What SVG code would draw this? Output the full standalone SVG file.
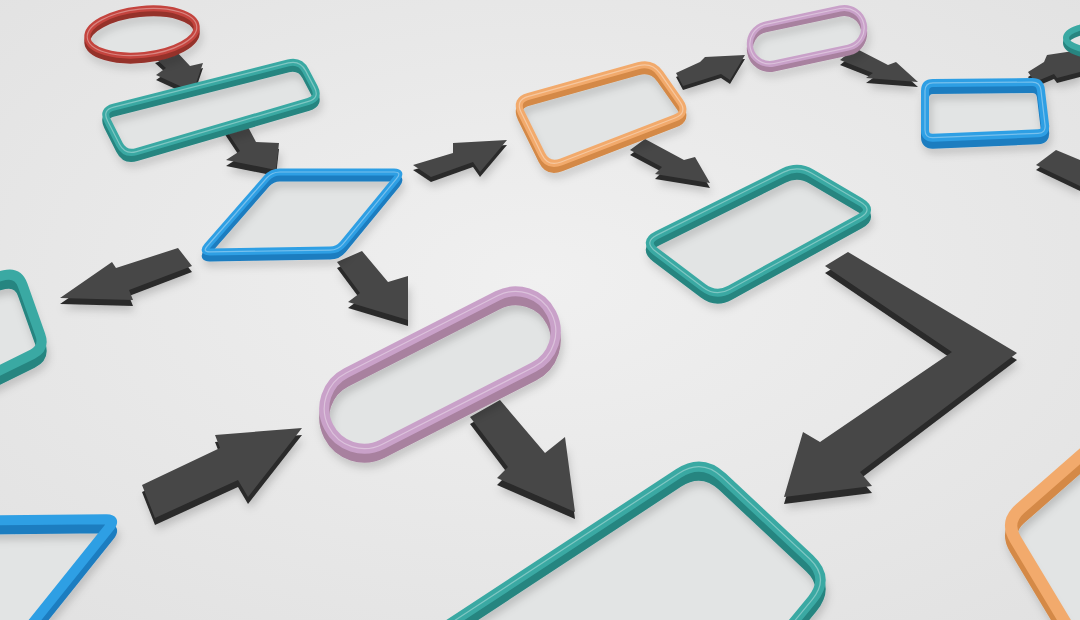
<svg xmlns="http://www.w3.org/2000/svg" width="1080" height="620" viewBox="0 0 1080 620">
<defs>
<radialGradient id="bg" cx="0.5" cy="0.45" r="0.8"><stop offset="0" stop-color="#f0f0f0"/><stop offset="1" stop-color="#e0e0e0"/></radialGradient>
<filter id="sh" x="-30%" y="-30%" width="160%" height="180%"><feDropShadow dx="2" dy="5" stdDeviation="4" flood-color="#000" flood-opacity="0.18"/></filter>
<path id="n2" d="M113.7,107.1 L288.3,62.9 Q300,60 305.6,70.6 L314.4,87.4 Q320,98 308.5,101.4 L136.5,151.6 Q125,155 119.5,144.3 L107.5,120.7 Q102,110 113.7,107.1 Z"/>
<path id="n3" d="M280,172 L394,172 Q402,172 396.9,178.2 L343.1,243.8 Q338,250 330,250.1 L210,251.9 Q202,252 207.3,246 L266.7,178 Q272,172 280,172 Z"/>
<path id="n4" d="M528.5,96.3 L638.5,65.7 Q652,62 660.1,73.4 L679.9,101.6 Q688,113 674.9,118 L561.1,162 Q548,167 541.8,154.4 L521.2,112.6 Q515,100 528.5,96.3 Z"/>
<path id="n6" d="M933,82.9 L1032,82.1 Q1040,82 1040.9,89.9 L1045.1,125.1 Q1046,133 1038,133.3 L933,137.7 Q925,138 925,130 L925,91 Q925,83 933,82.9 Z"/>
<path id="n8" d="M657.3,234.9 L783.7,172.1 Q798,165 811.8,173.2 L860.2,201.8 Q874,210 860,217.7 L730,289.3 Q716,297 703.2,287.4 L655.8,251.6 Q643,242 657.3,234.9 Z"/>
<path id="n10" d="M-100,300 L4.4,275.2 Q18,272 22.7,285.2 L40.3,334.8 Q45,348 32.5,354.2 L-60,400 Z"/>
<path id="n11" d="M-60,521 L106,519.2 Q116,519 109.7,526.8 L15,645 L-100,645 Z"/>
<path id="n12" d="M678.6,473.4 Q702,458 722.4,477.2 L809.6,558.8 Q830,578 812.2,599.6 L680,760 L425,640 Z"/>
<path id="n13" d="M1100,680 L1015.3,539.1 Q1005,522 1020,508.8 L1150,395 L1250,600 Z"/>
<ellipse id="n1" cx="142" cy="32" rx="55" ry="23" transform="rotate(-6 142 32)"/>
<ellipse id="n7" cx="1108" cy="38" rx="42" ry="14"/>
<rect id="n5" x="-58" y="-20" width="116" height="40" rx="20" transform="translate(807,36) rotate(-12)"/>
<rect id="n9" x="-125" y="-40" width="250" height="80" rx="40" transform="translate(440,370) rotate(-27)"/>
</defs>
<style>
.glass{fill:#e2e4e4;stroke:none}
.at{fill:#474747}
.as{fill:#2b2b2b}
.red{fill:none;stroke:#c4443e}
.red-s{fill:none;stroke:#95302b}
.teal{fill:none;stroke:#3aa9a3}
.teal-s{fill:none;stroke:#278580}
.blue{fill:none;stroke:#2e9fe4}
.blue-s{fill:none;stroke:#1d7dc0}
.orange{fill:none;stroke:#f2aa6c}
.orange-s{fill:none;stroke:#d48947}
.purple{fill:none;stroke:#c9a1c9}
.purple-s{fill:none;stroke:#a8819f}
.hl{fill:none;stroke:#ffffff;stroke-opacity:0.35;stroke-width:1.2}
</style>
<rect width="1080" height="620" fill="url(#bg)"/>

<g id="connectors">
  <g id="a1"><polygon class="as" filter="url(#sh)" transform="translate(0,5)" points="155,58 176,51 190,66 203,63 193,92 156,75 166,68"/><polygon class="at" points="155,58 176,51 190,66 203,63 193,92 156,75 166,68"/></g>
  <g id="a2"><polygon class="as" filter="url(#sh)" transform="translate(0,6)" points="218,118 240,112 256,142 279,143 276,170 226,160 240,151"/><polygon class="at" points="218,118 240,112 256,142 279,143 276,170 226,160 240,151"/></g>
  <g id="a3"><polygon class="as" filter="url(#sh)" transform="translate(0,5)" points="413,165 453,153 453,143 507,140 480,172 473,162 431,177"/><polygon class="at" points="413,165 453,153 453,143 507,140 480,172 473,162 431,177"/></g>
  <g id="a4"><polygon class="as" filter="url(#sh)" transform="translate(0,6)" points="60,298 112,262 116,268 178,248 192,266 129,290 133,300"/><polygon class="at" points="60,298 112,262 116,268 178,248 192,266 129,290 133,300"/></g>
  <g id="a5"><polygon class="as" filter="url(#sh)" transform="translate(0,6)" points="337,262 362,251 388,282 408,276 408,320 348,302 360,293"/><polygon class="at" points="337,262 362,251 388,282 408,276 408,320 348,302 360,293"/></g>
  <g id="a6"><polygon class="as" filter="url(#sh)" transform="translate(0,4)" points="676,73 700,62 705,57 745,55 730,80 721,74 683,86"/><polygon class="at" points="676,73 700,62 705,57 745,55 730,80 721,74 683,86"/></g>
  <g id="a7"><polygon class="as" filter="url(#sh)" transform="translate(0,5)" points="840,60 855,48 888,65 896,62 918,82 866,78 873,73"/><polygon class="at" points="840,60 855,48 888,65 896,62 918,82 866,78 873,73"/></g>
  <g id="a8"><polygon class="as" filter="url(#sh)" transform="translate(0,5)" points="630,150 645,139 684,160 695,157 710,183 655,174 662,167"/><polygon class="at" points="630,150 645,139 684,160 695,157 710,183 655,174 662,167"/></g>
  <g id="a9"><polygon class="as" filter="url(#sh)" transform="translate(0,5)" points="1028,72 1044,62 1047,55 1080,50 1080,72 1057,78 1054,74 1035,82"/><polygon class="at" points="1028,72 1044,62 1047,55 1080,50 1080,72 1057,78 1054,74 1035,82"/></g>
  <g id="a10"><polygon class="as" filter="url(#sh)" transform="translate(0,5)" points="1036,165 1056,150 1080,160 1080,186"/><polygon class="at" points="1036,165 1056,150 1080,160 1080,186"/></g>
  <g id="a11"><polygon class="as" filter="url(#sh)" transform="translate(0,7)" points="142,485 220,448 215,435 302,428 248,497 238,480 155,518"/><polygon class="at" points="142,485 220,448 215,435 302,428 248,497 238,480 155,518"/></g>
  <g id="a12"><polygon class="as" filter="url(#sh)" transform="translate(0,7)" points="470,417 500,400 545,453 565,437 575,512 497,478 508,467"/><polygon class="at" points="470,417 500,400 545,453 565,437 575,512 497,478 508,467"/></g>
  <g id="a13"><polygon class="as" filter="url(#sh)" transform="translate(0,7)" points="825,266 848,252 1017,353 860,472 872,486 784,497 803,432 820,442 952,352"/><polygon class="at" points="825,266 848,252 1017,353 860,472 872,486 784,497 803,432 820,442 952,352"/></g>
</g>

<g id="node-start"><use href="#n1" class="glass"/><use href="#n1" class="red-s" stroke-width="6" transform="translate(0,5)" filter="url(#sh)"/><use href="#n1" class="red" stroke-width="6"/><use href="#n1" class="hl"/></g>
<g id="node-process1"><use href="#n2" class="glass"/><use href="#n2" class="teal-s" stroke-width="7" transform="translate(0,6)" filter="url(#sh)"/><use href="#n2" class="teal" stroke-width="7"/><use href="#n2" class="hl"/></g>
<g id="node-decision1"><use href="#n3" class="glass"/><use href="#n3" class="blue-s" stroke-width="7" transform="translate(0,6)" filter="url(#sh)"/><use href="#n3" class="blue" stroke-width="7"/><use href="#n3" class="hl"/></g>
<g id="node-process2"><use href="#n4" class="glass"/><use href="#n4" class="orange-s" stroke-width="7" transform="translate(0,6)" filter="url(#sh)"/><use href="#n4" class="orange" stroke-width="7"/><use href="#n4" class="hl"/></g>
<g id="node-terminal1"><use href="#n5" class="glass"/><use href="#n5" class="purple-s" stroke-width="6" transform="translate(0,5)" filter="url(#sh)"/><use href="#n5" class="purple" stroke-width="6"/><use href="#n5" class="hl"/></g>
<g id="node-process3"><use href="#n6" class="glass"/><use href="#n6" class="blue-s" stroke-width="8" transform="translate(0,7)" filter="url(#sh)"/><use href="#n6" class="blue" stroke-width="8"/><use href="#n6" class="hl"/></g>
<g id="node-terminal2"><use href="#n7" class="glass"/><use href="#n7" class="teal-s" stroke-width="6" transform="translate(0,5)"/><use href="#n7" class="teal" stroke-width="6"/></g>
<g id="node-process4"><use href="#n8" class="glass"/><use href="#n8" class="teal-s" stroke-width="8" transform="translate(0,7)" filter="url(#sh)"/><use href="#n8" class="teal" stroke-width="8"/><use href="#n8" class="hl"/></g>
<g id="node-terminal3"><use href="#n9" class="glass"/><use href="#n9" class="purple-s" stroke-width="10" transform="translate(0,9)" filter="url(#sh)"/><use href="#n9" class="purple" stroke-width="10"/><use href="#n9" class="hl"/></g>
<g id="node-left"><use href="#n10" class="glass"/><use href="#n10" class="teal-s" stroke-width="10" transform="translate(0,9)" filter="url(#sh)"/><use href="#n10" class="teal" stroke-width="10"/></g>
<g id="node-bottom-left"><use href="#n11" class="glass"/><use href="#n11" class="blue-s" stroke-width="10" transform="translate(0,9)" filter="url(#sh)"/><use href="#n11" class="blue" stroke-width="10"/></g>
<g id="node-bottom"><use href="#n12" class="glass"/><use href="#n12" class="teal-s" stroke-width="10" transform="translate(0,9)" filter="url(#sh)"/><use href="#n12" class="teal" stroke-width="10"/><use href="#n12" class="hl"/></g>
<g id="node-bottom-right"><use href="#n13" class="glass"/><use href="#n13" class="orange-s" stroke-width="12" transform="translate(0,10)" filter="url(#sh)"/><use href="#n13" class="orange" stroke-width="12"/></g>
</svg>
